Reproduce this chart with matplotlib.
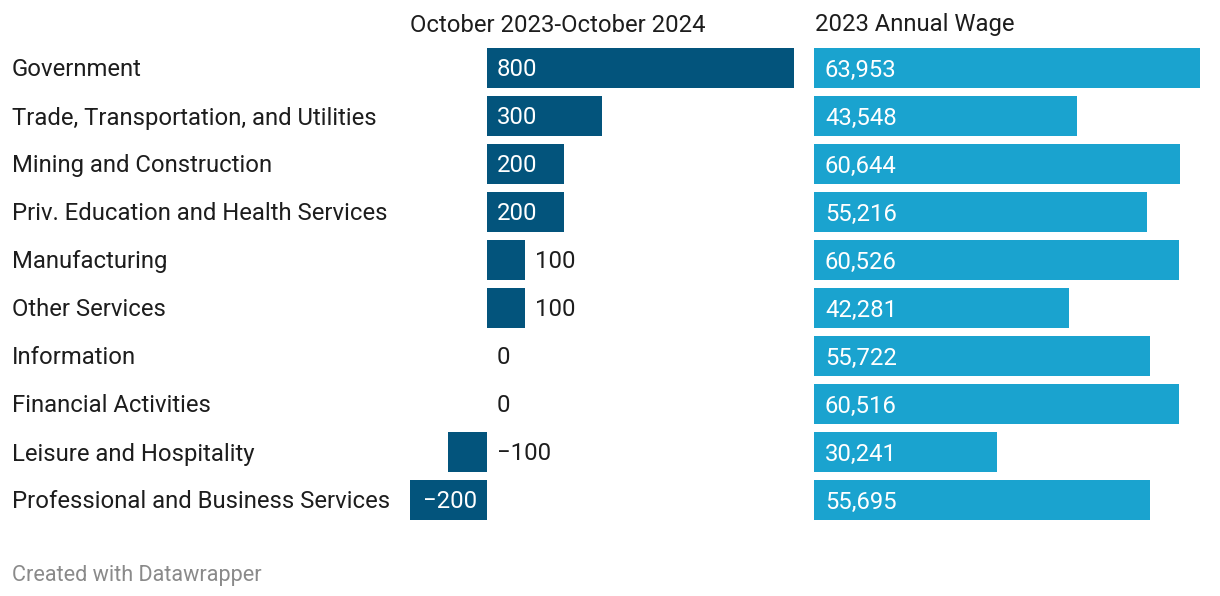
import matplotlib
matplotlib.use("Agg")
import matplotlib.pyplot as plt
from matplotlib.transforms import ScaledTranslation

categories = ["Government", "Trade, Transportation, and Utilities", "Mining and Construction",
              "Priv. Education and Health Services", "Manufacturing", "Other Services",
              "Information", "Financial Activities", "Leisure and Hospitality",
              "Professional and Business Services"]
change = [800, 300, 200, 200, 100, 100, 0, 0, -100, -200]
wage = [63953, 43548, 60644, 55216, 60526, 42281, 55722, 60516, 30241, 55695]
col1_title = "October 2023-October 2024"
col2_title = "2023 Annual Wage"
footer = "Created with Datawrapper"

DARK = "#03547c"
LIGHT = "#1aa3cf"
W, H = 1220, 596
plt.rcParams["font.family"] = ["Roboto", "DejaVu Sans"]
FS = 17.2

fig = plt.figure(figsize=(W / 100, H / 100), dpi=100)
down = ScaledTranslation(0, -2 / 100, fig.dpi_scale_trans)

def ax_at(x0, x1, y0, y1):
    return fig.add_axes([x0 / W, 1 - y1 / H, (x1 - x0) / W, (y1 - y0) / H])

n = len(categories)
ax1 = ax_at(410, 794, 44, 44 + 48 * n)
ax2 = ax_at(814, 1200, 44, 44 + 48 * n)
for ax in (ax1, ax2):
    ax.set_ylim(n - 0.5, -0.5)
    ax.axis("off")
ax1.set_xlim(min(change), max(change))
ax2.set_xlim(0, max(wage))

ys = list(range(n))
ax1.barh(ys, change, height=40 / 48, color=DARK)
ax2.barh(ys, wage, height=40 / 48, color=LIGHT)

px1 = (max(change) - min(change)) / (794 - 410)
t1 = ax1.transData + down
for i, v in enumerate(change):
    txt = f"{v:,}".replace("-", "\u2212")
    bar_px = abs(v) / px1
    if v > 0 and bar_px > 60:
        ax1.text(10 * px1, i, txt, color="white", va="center", ha="left", fontsize=FS, transform=t1)
    elif v < 0 and bar_px > 60:
        ax1.text(-10 * px1, i, txt, color="white", va="center", ha="right", fontsize=FS, transform=t1)
    elif v > 0:
        ax1.text(v + 10 * px1, i, txt, color="#1d1d1d", va="center", ha="left", fontsize=FS, transform=t1)
    else:
        ax1.text(10 * px1, i, txt, color="#1d1d1d", va="center", ha="left", fontsize=FS, transform=t1)

px2 = max(wage) / (1200 - 814)
t2 = ax2.transData + down
for i, v in enumerate(wage):
    ax2.text(11 * px2, i, f"{v:,}", color="white", va="center", ha="left", fontsize=FS, transform=t2)

tf = fig.transFigure + down
for i, c in enumerate(categories):
    fig.text(12 / W, 1 - (68 + 48 * i) / H, c, va="center", ha="left", fontsize=FS, color="#1d1d1d", transform=tf)

fig.text(410 / W, 1 - 23 / H, col1_title, va="center", ha="left", fontsize=FS, color="#1d1d1d", transform=tf)
fig.text(815 / W, 1 - 23 / H, col2_title, va="center", ha="left", fontsize=FS, color="#1d1d1d", transform=tf)
fig.text(12 / W, 1 - 573 / H, footer, va="center", ha="left", fontsize=15.6, color="#8a8a8a", transform=tf)

fig.savefig("out.png", dpi=100, facecolor="white")
